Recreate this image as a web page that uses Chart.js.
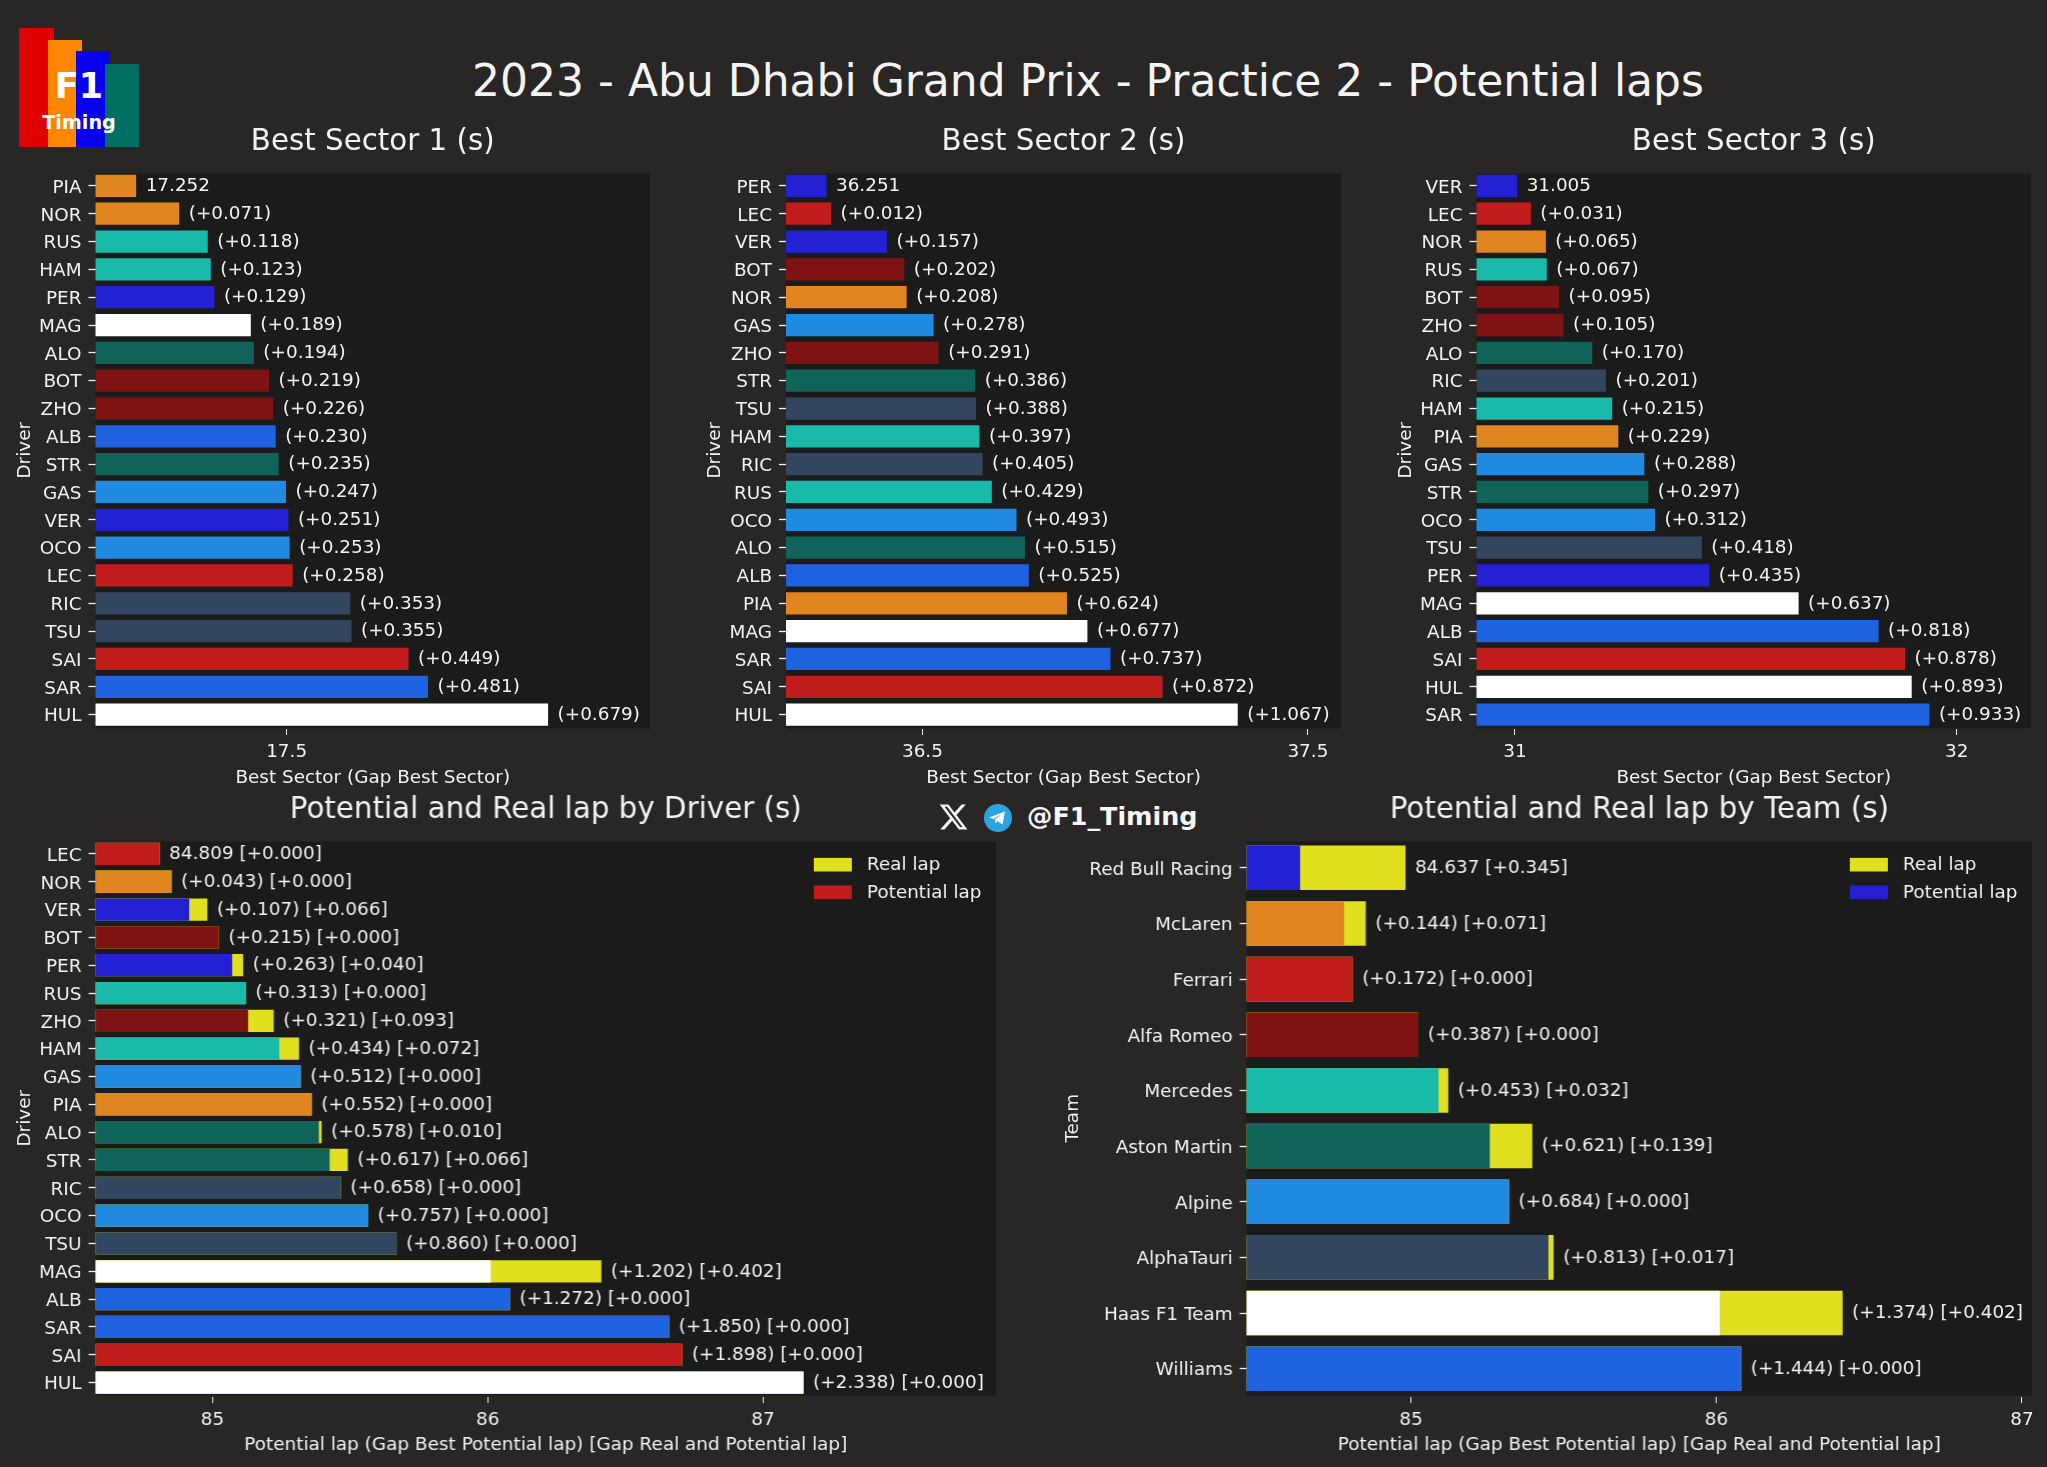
<!DOCTYPE html>
<html><head><meta charset="utf-8">
<script src="https://cdn.jsdelivr.net/npm/chart.js@4"></script>
<style>
html,body{margin:0;padding:0;background:#292626;overflow:hidden}
body{width:2047px;height:1467px;position:relative;font-family:"DejaVu Sans",sans-serif;color:#f2f2f2}
canvas{position:absolute}
.abs{position:absolute;white-space:nowrap}
</style></head><body>
<div class="abs" style="left:19px;top:28px;width:35px;height:119px;background:#e00000"></div>
<div class="abs" style="left:48px;top:40px;width:34px;height:107px;background:#ff8700"></div>
<div class="abs" style="left:76px;top:51px;width:34px;height:96px;background:#0600ef"></div>
<div class="abs" style="left:105px;top:64px;width:34px;height:83px;background:#006f62"></div>
<div class="abs" style="left:79px;top:65px;transform:translateX(-50%);font:bold 35px 'DejaVu Sans';color:#fff;line-height:42px">F1</div>
<div class="abs" style="left:79px;top:110px;transform:translateX(-50%);font:bold 19.2px 'DejaVu Sans';color:#fff;line-height:26px">Timing</div>
<div class="abs" id="mainTitle" style="left:1088px;top:54px;transform:translateX(-50%);font-size:44px;line-height:54px;color:#f4f4f4">2023 - Abu Dhabi Grand Prix - Practice 2 - Potential laps</div>
<svg class="abs" style="left:938px;top:801px" width="31" height="32" viewBox="0 0 24 24"><path fill="#f2f2f2" d="M18.244 2.25h3.308l-7.227 8.26 8.502 11.24H16.17l-5.214-6.817L4.99 21.75H1.68l7.73-8.835L1.254 2.25H8.08l4.713 6.231zm-1.161 17.52h1.833L7.084 4.126H5.117z"/></svg>
<svg class="abs" style="left:984px;top:803.500px" width="28" height="28" viewBox="0 0 28 28"><circle cx="14" cy="14" r="14" fill="#2aa5e2"/><path fill="#fff" d="M5 13.500 21 7.500 18.500 20.500 13.500 17 11.500 19.500 11 15.500 18 10 9.500 15z"/></svg>
<div class="abs" style="left:1027px;top:799px;font:bold 25.4px 'DejaVu Sans';line-height:34px;color:#f6f6f6">@F1_Timing</div>

<script>
const FG = '#f2f2f2', PLOT_BG = '#1c1b1b', YELLOW = '#e0e01e';
const TEAM_COLOR = {PIA:'#e0851f',NOR:'#e0851f',RUS:'#1abaaa',HAM:'#1abaaa',PER:'#2420d4',VER:'#2420d4',MAG:'#ffffff',HUL:'#ffffff',ALO:'#0f6358',STR:'#0f6358',BOT:'#7f1212',ZHO:'#7f1212',ALB:'#1f62e0',SAR:'#1f62e0',GAS:'#1f8ae0',OCO:'#1f8ae0',LEC:'#c01c1c',SAI:'#c01c1c',RIC:'#33465f',TSU:'#33465f'};

const s1Drivers = ['PIA','NOR','RUS','HAM','PER','MAG','ALO','BOT','ZHO','ALB','STR','GAS','VER','OCO','LEC','RIC','TSU','SAI','SAR','HUL'];
const s1Values = [17.252,17.323,17.370,17.375,17.381,17.441,17.446,17.471,17.478,17.482,17.487,17.499,17.503,17.505,17.510,17.605,17.607,17.701,17.733,17.931];
const s1Labels = ['17.252','(+0.071)','(+0.118)','(+0.123)','(+0.129)','(+0.189)','(+0.194)','(+0.219)','(+0.226)','(+0.230)','(+0.235)','(+0.247)','(+0.251)','(+0.253)','(+0.258)','(+0.353)','(+0.355)','(+0.449)','(+0.481)','(+0.679)'];
const s1Ticks = [17.5];

const s2Drivers = ['PER','LEC','VER','BOT','NOR','GAS','ZHO','STR','TSU','HAM','RIC','RUS','OCO','ALO','ALB','PIA','MAG','SAR','SAI','HUL'];
const s2Values = [36.251,36.263,36.408,36.453,36.459,36.529,36.542,36.637,36.639,36.648,36.656,36.680,36.744,36.766,36.776,36.875,36.928,36.988,37.123,37.318];
const s2Labels = ['36.251','(+0.012)','(+0.157)','(+0.202)','(+0.208)','(+0.278)','(+0.291)','(+0.386)','(+0.388)','(+0.397)','(+0.405)','(+0.429)','(+0.493)','(+0.515)','(+0.525)','(+0.624)','(+0.677)','(+0.737)','(+0.872)','(+1.067)'];
const s2Ticks = [36.5,37.5];

const s3Drivers = ['VER','LEC','NOR','RUS','BOT','ZHO','ALO','RIC','HAM','PIA','GAS','STR','OCO','TSU','PER','MAG','ALB','SAI','HUL','SAR'];
const s3Values = [31.005,31.036,31.070,31.072,31.100,31.110,31.175,31.206,31.220,31.234,31.293,31.302,31.317,31.423,31.440,31.642,31.823,31.883,31.898,31.938];
const s3Labels = ['31.005','(+0.031)','(+0.065)','(+0.067)','(+0.095)','(+0.105)','(+0.170)','(+0.201)','(+0.215)','(+0.229)','(+0.288)','(+0.297)','(+0.312)','(+0.418)','(+0.435)','(+0.637)','(+0.818)','(+0.878)','(+0.893)','(+0.933)'];
const s3Ticks = [31,32];

const lapDrivers = ['LEC','NOR','VER','BOT','PER','RUS','ZHO','HAM','GAS','PIA','ALO','STR','RIC','OCO','TSU','MAG','ALB','SAR','SAI','HUL'];
const lapPotential = [84.809,84.852,84.916,85.024,85.072,85.122,85.130,85.243,85.321,85.361,85.387,85.426,85.467,85.566,85.669,86.011,86.081,86.659,86.707,87.147];
const lapReal = [84.809,84.852,84.982,85.024,85.112,85.122,85.223,85.315,85.321,85.361,85.397,85.492,85.467,85.566,85.669,86.413,86.081,86.659,86.707,87.147];
const lapLabels = ['84.809 [+0.000]','(+0.043) [+0.000]','(+0.107) [+0.066]','(+0.215) [+0.000]','(+0.263) [+0.040]','(+0.313) [+0.000]','(+0.321) [+0.093]','(+0.434) [+0.072]','(+0.512) [+0.000]','(+0.552) [+0.000]','(+0.578) [+0.010]','(+0.617) [+0.066]','(+0.658) [+0.000]','(+0.757) [+0.000]','(+0.860) [+0.000]','(+1.202) [+0.402]','(+1.272) [+0.000]','(+1.850) [+0.000]','(+1.898) [+0.000]','(+2.338) [+0.000]'];
const lapTicks = [85,86,87];

const teams = ['Red Bull Racing','McLaren','Ferrari','Alfa Romeo','Mercedes','Aston Martin','Alpine','AlphaTauri','Haas F1 Team','Williams'];
const teamPotential = [84.637,84.781,84.809,85.024,85.090,85.258,85.321,85.450,86.011,86.081];
const teamReal = [84.982,84.852,84.809,85.024,85.122,85.397,85.321,85.467,86.413,86.081];
const teamLabels = ['84.637 [+0.345]','(+0.144) [+0.071]','(+0.172) [+0.000]','(+0.387) [+0.000]','(+0.453) [+0.032]','(+0.621) [+0.139]','(+0.684) [+0.000]','(+0.813) [+0.017]','(+1.374) [+0.402]','(+1.444) [+0.000]'];
const teamColors = ['#2420d4','#e0851f','#c01c1c','#7f1212','#1abaaa','#0f6358','#1f8ae0','#33465f','#ffffff','#1f62e0'];
const teamTicks = [85,86,87];

const SMALL = '18.4px "DejaVu Sans"';
function makeChart(p){
  const topPad = 70, rightPad = 30;
  const c = document.createElement('canvas');
  const W = p.r - p.cl + rightPad, H = p.b - p.t + topPad + p.xh;
  c.width = W; c.height = H;
  c.style.left = p.cl + 'px'; c.style.top = (p.t - topPad) + 'px';
  c.style.width = W + 'px'; c.style.height = H + 'px';
  document.body.appendChild(c);
  const deco = {
    id: 'deco',
    beforeDraw(ch){
      const a = ch.chartArea, x = ch.ctx;
      x.save(); x.fillStyle = PLOT_BG;
      x.fillRect(a.left, a.top + p.bgTop, a.right - a.left, a.bottom + p.bgBottom - a.top - p.bgTop);
      x.restore();
    },
    afterDraw(ch){
      const a = ch.chartArea, x = ch.ctx;
      x.save();
      x.fillStyle = FG; x.textAlign = 'center'; x.textBaseline = 'alphabetic';
      x.font = '29.3px "DejaVu Sans"';
      x.fillText(p.title, (a.left + a.right) / 2, a.top + p.bgTop - 23.5);
      x.font = SMALL; x.textAlign = 'left'; x.textBaseline = 'middle';
      const top = ch.getDatasetMeta(0);
      top.data.forEach((b, i) => {
        x.fillText(p.labels[i], b.x + 9.5, b.y + 0.5);
      });
      if (p.legend) {
        p.legend.forEach((lg, i) => {
          const y = a.top + p.bgTop + 23.2 + i * 27.6;
          x.fillStyle = lg.color;
          x.fillRect(a.right - 182, y - 6.8, 38, 13.6);
          x.fillStyle = FG;
          x.fillText(lg.text, a.right - 129, y + 0.5);
        });
      }
      x.restore();
    }
  };
  return new Chart(c, {
    type: 'bar',
    data: { labels: p.cats, datasets: p.datasets },
    options: {
      indexAxis: 'y', responsive: false, animation: false, devicePixelRatio: 1,
      layout: { padding: { left: 0, top: topPad, right: rightPad, bottom: 0 } },
      plugins: { legend: { display: false }, title: { display: false }, tooltip: { enabled: false } },
      scales: {
        x: {
          type: 'linear', min: p.min, max: p.max,
          grid: { drawOnChartArea: false, drawTicks: true, tickLength: 6.5, color: FG, tickWidth: 1, tickColor: FG },
          border: { display: false },
          afterBuildTicks(s){ s.ticks = p.ticks.map(v => ({ value: v })); },
          ticks: { color: FG, font: { family: 'DejaVu Sans', size: 18.4 }, padding: 6, maxRotation: 0, autoSkip: false, callback: v => String(v) },
          title: { display: true, text: p.xTitle, color: FG, font: { family: 'DejaVu Sans', size: 18.4 }, padding: { top: 0, bottom: 0 } },
          afterFit(s){ s.height = p.xh; s.paddingLeft = 0; s.paddingRight = 0; }
        },
        y: {
          type: 'category',
          grid: { offset: false, drawOnChartArea: false, drawTicks: true, tickLength: 7, color: FG, tickWidth: 1.3, tickColor: FG },
          border: { display: false },
          ticks: { color: FG, font: { family: 'DejaVu Sans', size: 18.4 }, padding: 7, autoSkip: false, labelOffset: 2 },
          title: { display: true, text: p.yTitle, color: FG, font: { family: 'DejaVu Sans', size: 18.4 }, padding: { top: 0, bottom: 0 } },
          afterFit(s){ s.width = p.l - p.cl; s.paddingTop = 0; s.paddingBottom = 0; }
        }
      },
      datasets: { bar: { barPercentage: 0.8, categoryPercentage: 1, grouped: false, borderWidth: 0 } }
    },
    plugins: [deco]
  });
}

const sectorX = 'Best Sector (Gap Best Sector)';
const lapX = 'Potential lap (Gap Best Potential lap) [Gap Real and Potential lap]';
const driverColors = list => list.map(d => TEAM_COLOR[d]);

makeChart({title:'Best Sector 1 (s)',cl:14,l:95.5,r:650,t:171.5,b:728,xh:60.5,bgTop:1.5,bgBottom:0,cats:s1Drivers,labels:s1Labels,min:17.185,max:18.099,ticks:s1Ticks,xTitle:sectorX,yTitle:'Driver',
  datasets:[{label:'Best Sector 1',data:s1Values,backgroundColor:driverColors(s1Drivers)}]});
makeChart({title:'Best Sector 2 (s)',cl:704,l:786,r:1341,t:171.5,b:728,xh:60.5,bgTop:1.5,bgBottom:0,cats:s2Drivers,labels:s2Labels,min:36.146,max:37.586,ticks:s2Ticks,xTitle:sectorX,yTitle:'Driver',
  datasets:[{label:'Best Sector 2',data:s2Values,backgroundColor:driverColors(s2Drivers)}]});
makeChart({title:'Best Sector 3 (s)',cl:1395,l:1476.5,r:2031,t:171.5,b:728,xh:60.5,bgTop:1.5,bgBottom:0,cats:s3Drivers,labels:s3Labels,min:30.913,max:32.168,ticks:s3Ticks,xTitle:sectorX,yTitle:'Driver',
  datasets:[{label:'Best Sector 3',data:s3Values,backgroundColor:driverColors(s3Drivers)}]});
makeChart({title:'Potential and Real lap by Driver (s)',cl:14,l:95.5,r:995.7,t:839.5,b:1396,xh:59.5,bgTop:1.5,bgBottom:-1,cats:lapDrivers,labels:lapLabels,min:84.576,max:87.846,ticks:lapTicks,xTitle:lapX,yTitle:'Driver',
  legend:[{text:'Real lap',color:YELLOW},{text:'Potential lap',color:TEAM_COLOR[lapDrivers[0]]}],
  datasets:[
    {label:'Real lap',data:lapReal,backgroundColor:YELLOW,order:2},
    {label:'Potential lap',data:lapPotential,backgroundColor:driverColors(lapDrivers),order:1}
  ]});
makeChart({title:'Potential and Real lap by Team (s)',cl:1062,l:1246.5,r:2031.5,t:839.5,b:1396,xh:59.5,bgTop:1.5,bgBottom:-1,cats:teams,labels:teamLabels,min:84.462,max:87.033,ticks:teamTicks,xTitle:lapX,yTitle:'Team',
  legend:[{text:'Real lap',color:YELLOW},{text:'Potential lap',color:teamColors[0]}],
  datasets:[
    {label:'Real lap',data:teamReal,backgroundColor:YELLOW,order:2},
    {label:'Potential lap',data:teamPotential,backgroundColor:teamColors,order:1}
  ]});
</script>
</body></html>
